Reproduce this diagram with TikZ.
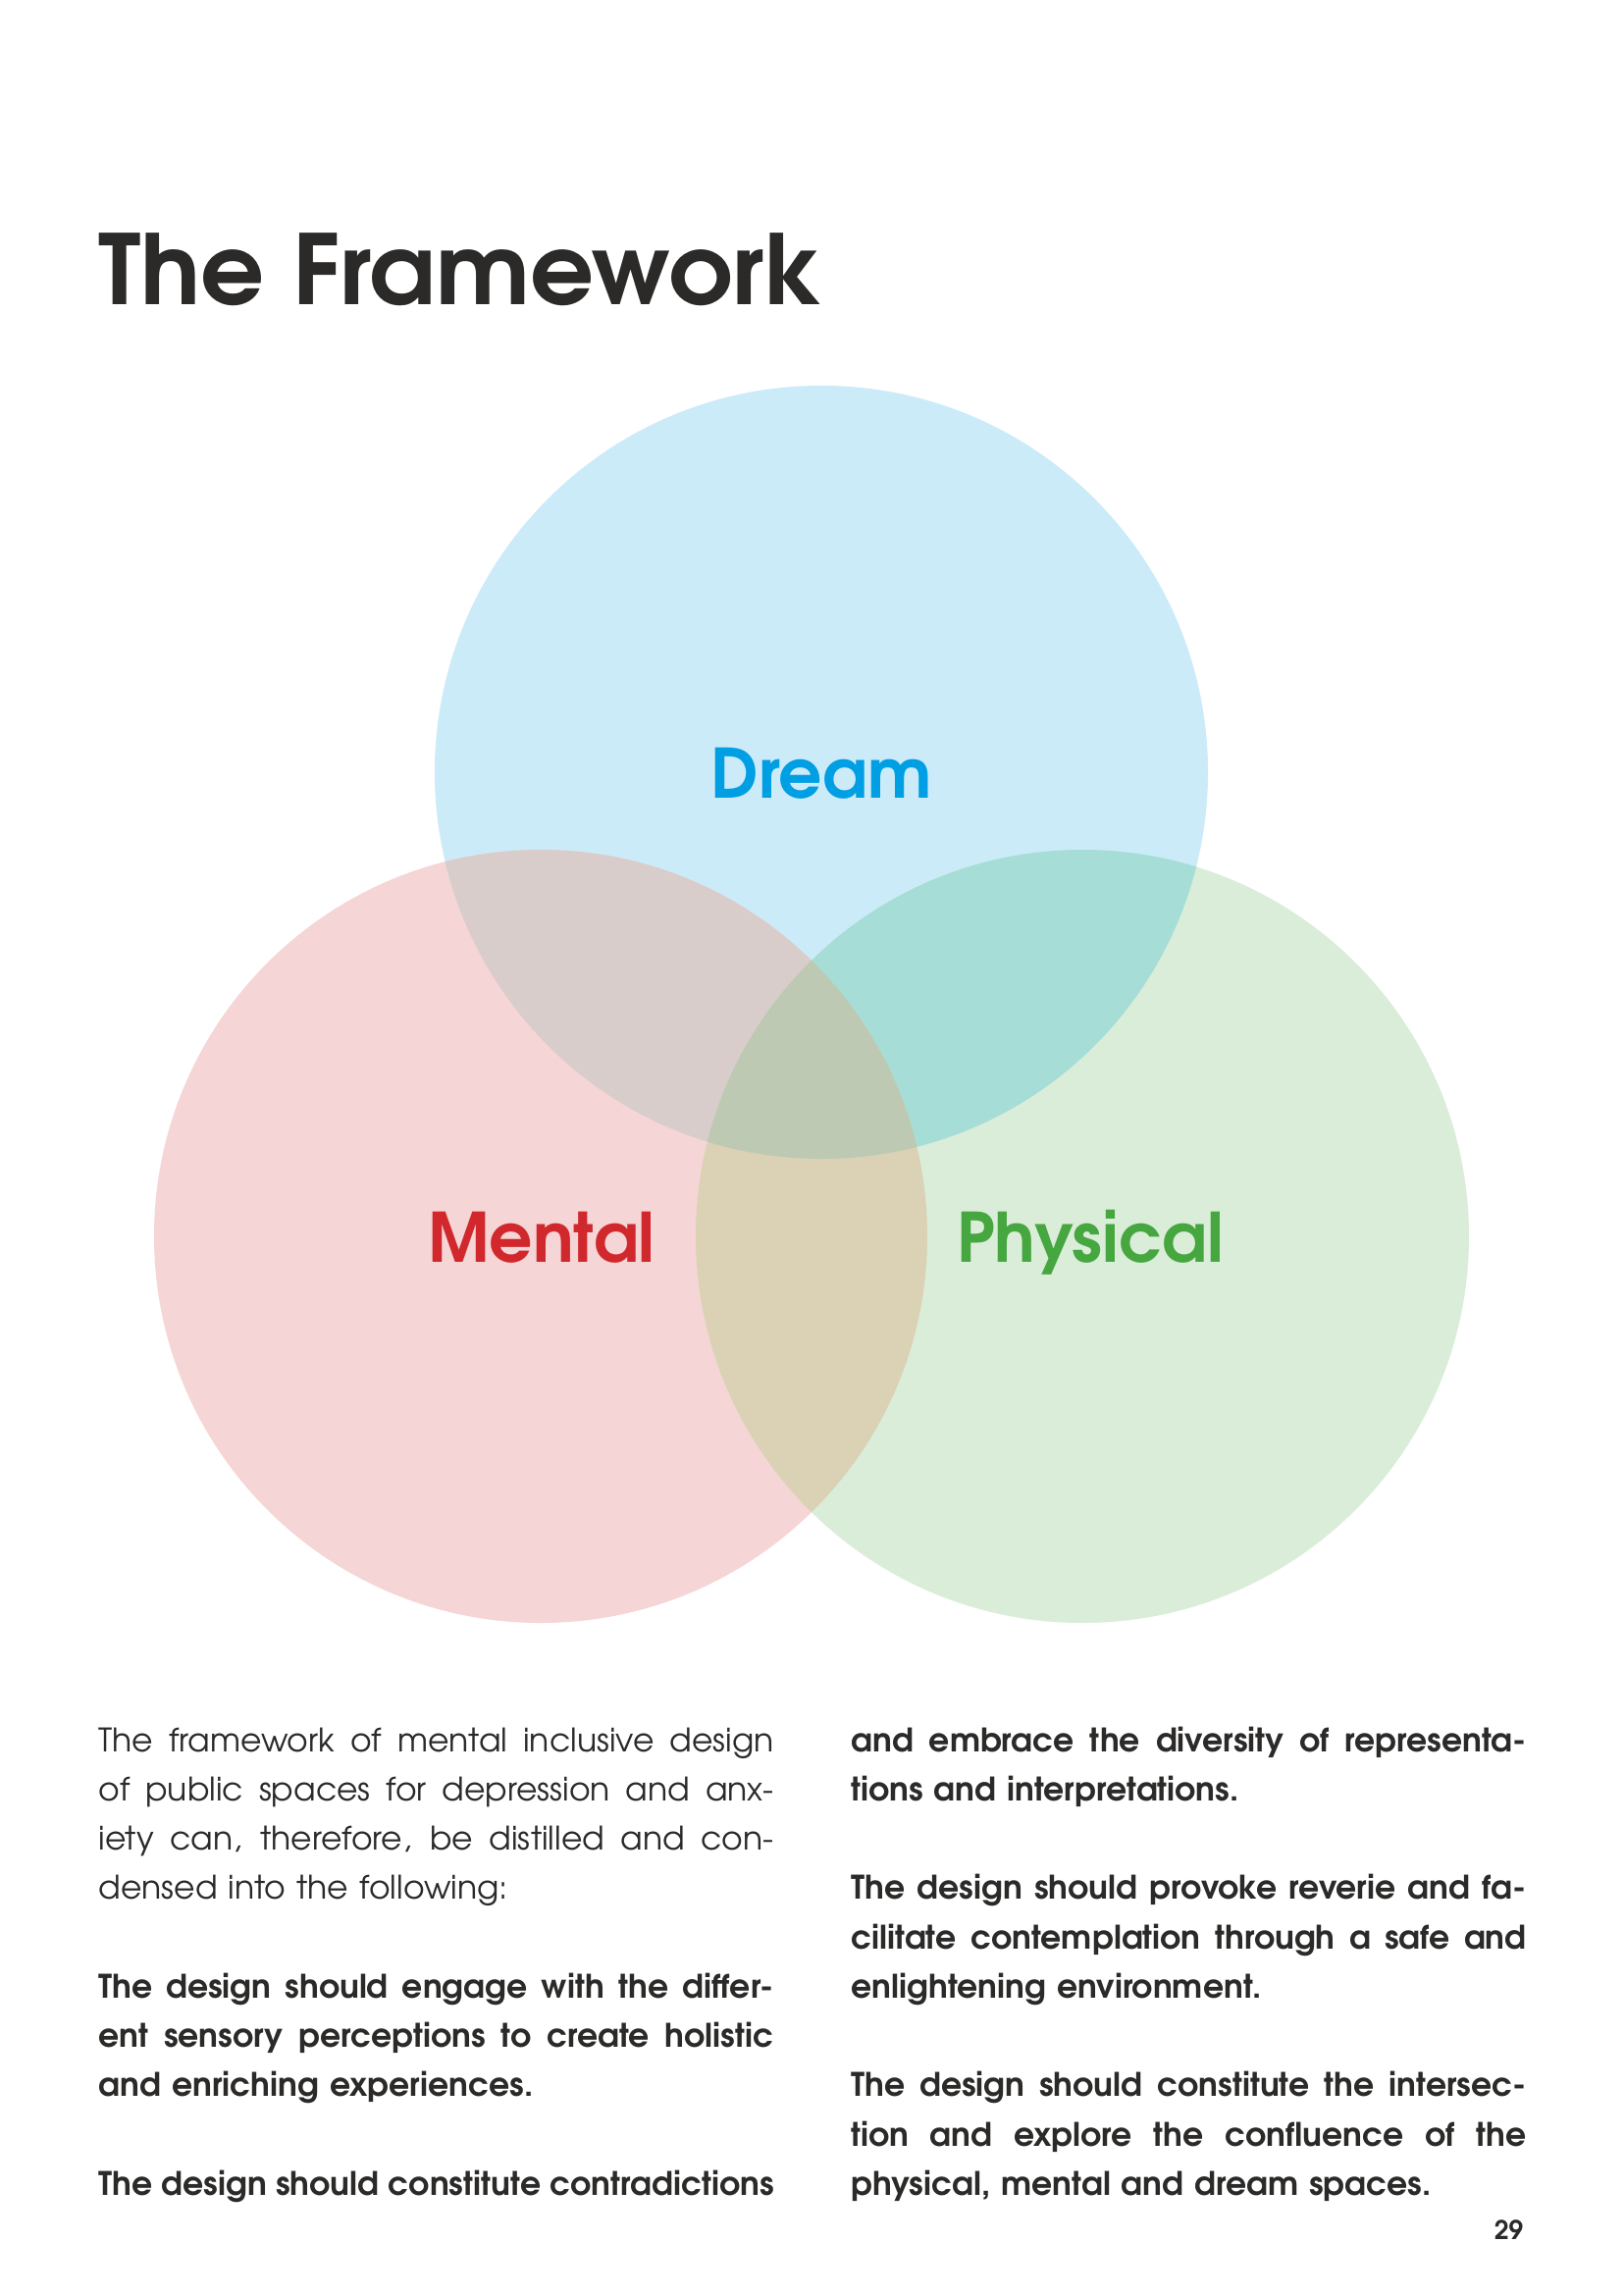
\documentclass[tikz,border=0pt]{standalone}
\usepackage{fontspec}
\setmainfont{texgyreadventor}[Extension=.otf, UprightFont=*-regular, BoldFont=*-bold]
\definecolor{inkc}{HTML}{2B2A29}
\definecolor{dreamtxt}{HTML}{009FE3}
\definecolor{mentaltxt}{HTML}{D0282C}
\definecolor{phystxt}{HTML}{46A63F}
\definecolor{dreamfill}{HTML}{CCEBF8}
\definecolor{mentalfill}{HTML}{F5D5D5}
\definecolor{physfill}{HTML}{DAEDD9}
\definecolor{dmfill}{HTML}{D8CDCB}
\definecolor{dpfill}{HTML}{A6DDD7}
\definecolor{mpfill}{HTML}{DBD1B5}
\definecolor{dmpfill}{HTML}{BDC9B3}
\newlength\colw \setlength\colw{247.7pt}
\newcommand\jline[1]{\leavevmode\hbox to \colw{\spaceskip=0.7\fontdimen2\font plus 1fil\relax #1}}
\tikzset{
  label3/.style={inner sep=0pt, anchor=base, font=\fontsize{25}{30}\selectfont\bfseries},
  bodycol/.style={inner sep=0pt, anchor=base west, text width=\colw, align=left,
    text=inkc, font=\fontsize{11.9}{18.1}\selectfont},
}
\begin{document}
\begin{tikzpicture}[x=0.36pt, y=-0.36pt]
\useasboundingbox (0,0) rectangle (1654,2339);
\fill[white] (0,0) rectangle (1654,2339);
% circles
\def\rr{394}
\coordinate (cd) at (837,787);
\coordinate (cm) at (551,1260);
\coordinate (cp) at (1103,1260);
\fill[dreamfill] (cd) circle (\rr);
\fill[mentalfill] (cm) circle (\rr);
\fill[physfill] (cp) circle (\rr);
\begin{scope}
  \clip (cd) circle (\rr);
  \fill[dmfill] (cm) circle (\rr);
  \fill[dpfill] (cp) circle (\rr);
\end{scope}
\begin{scope}
  \clip (cm) circle (\rr);
  \fill[mpfill] (cp) circle (\rr);
  \clip (cp) circle (\rr);
  \fill[dmpfill] (cd) circle (\rr);
\end{scope}
% title
\node[inner sep=0pt, anchor=base west, text=inkc, font=\fontsize{35.5}{40}\selectfont\bfseries] (title) at (100,310) {\scalebox{1.034}[1]{The Framework}};
% labels
\node[label3, text=dreamtxt] (dream) at (837,813) {Dream};
\node[label3, text=mentaltxt] (mental) at (552,1286) {Mental};
\node[label3, text=phystxt] (physical) at (1111,1286) {Physical};
% body
\node[bodycol] (leftcol) at (100,1785) {%
\jline{The framework of mental inclusive design}\\
\jline{of public spaces for depression and anx-}\\
\jline{iety can, therefore, be distilled and con-}\\
densed into the following:\\[18.1pt]
\textbf{\jline{The design should engage with the differ-}}\\
\textbf{\jline{ent sensory perceptions to create holistic}}\\
\textbf{and enriching experiences.}\\[18.1pt]
\textbf{\jline{The design should constitute contradictions}}};
\node[bodycol] (rightcol) at (867,1785) {%
\textbf{\jline{and embrace the diversity of representa-}}\\
\textbf{tions and interpretations.}\\[18.1pt]
\textbf{\jline{The design should provoke reverie and fa-}}\\
\textbf{\jline{cilitate contemplation through a safe and}}\\
\textbf{enlightening environment.}\\[18.1pt]
\textbf{\jline{The design should constitute the intersec-}}\\
\textbf{\jline{tion and explore the confluence of the}}\\
\textbf{physical, mental and dream spaces.}};
\node[inner sep=0pt, anchor=base east, text=inkc, font=\fontsize{9.5}{11}\selectfont\bfseries] (pagenum) at (1553,2282) {29};
\end{tikzpicture}
\end{document}
